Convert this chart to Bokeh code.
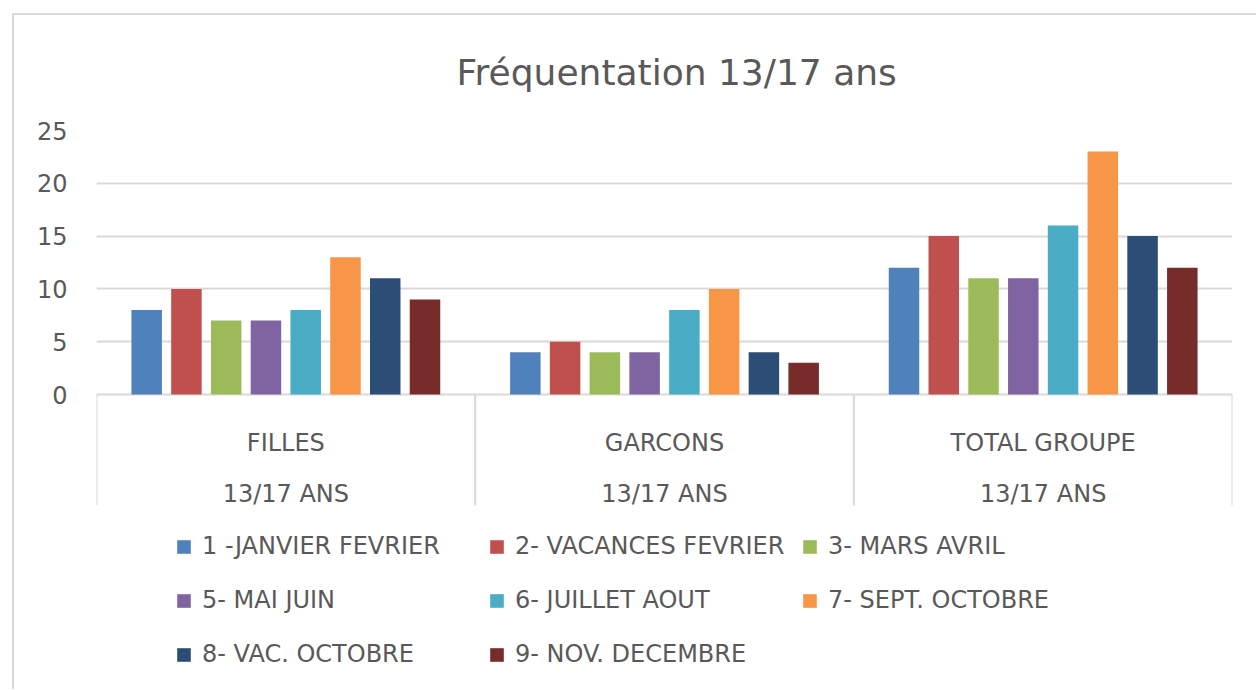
from bokeh.plotting import figure
from bokeh.models import Range1d, FixedTicker, Legend, LegendItem, ColumnDataSource
from bokeh.core.properties import value
from bokeh.embed import file_html
from bokeh.resources import INLINE

# ---- data ----
categories = ["FILLES", "GARCONS", "TOTAL GROUPE"]
sub_labels = ["13/17 ANS", "13/17 ANS", "13/17 ANS"]
series_names = ["1 -JANVIER FEVRIER", "2- VACANCES FEVRIER", "3- MARS AVRIL",
                "5- MAI JUIN", "6- JUILLET AOUT", "7- SEPT. OCTOBRE",
                "8- VAC. OCTOBRE", "9- NOV. DECEMBRE"]
filles = [8, 10, 7, 7, 8, 13, 11, 9]
garcons = [4, 5, 4, 4, 8, 10, 4, 3]
total_groupe = [12, 15, 11, 11, 16, 23, 15, 12]
colors = ["#4F81BD", "#C0504D", "#9BBB59", "#8064A2",
          "#4BACC6", "#F79646", "#2C4D75", "#772C2A"]
y_ticks = [0, 5, 10, 15, 20, 25]

# ---- layout ----
W, H = 1256, 689
LEFT, RIGHT, TOP, BOTTOM = 96, W - 1232, 130, 0
frame_h = H - TOP - BOTTOM
px_per_unit = 264 / 25.0
y_max = 25
y_min = y_max - frame_h / px_per_unit
FONT = "DejaVu Sans"
TXT = "#595959"
GRID = "#D9D9D9"

p = figure(width=W, height=H, x_range=Range1d(0, 3), y_range=Range1d(y_min, y_max),
           output_backend="svg", toolbar_location=None, x_axis_location=None,
           min_border_left=LEFT, min_border_right=RIGHT,
           min_border_top=TOP, min_border_bottom=BOTTOM,
           title="Fréquentation 13/17 ans")
p.outline_line_color = None
p.background_fill_color = "white"
p.border_fill_alpha = 0
p.xgrid.visible = False
p.styles = {"box-shadow": "inset 12px 13px 0 0 white, inset 14px 15px 0 0 #D9D9D9"}

p.title.text_font = FONT
p.title.text_font_size = "36px"
p.title.text_font_style = "normal"
p.title.text_color = TXT
p.title.align = "left"
p.title.offset = 360
p.title.standoff = 75

ax = p.yaxis[0]
ax.ticker = FixedTicker(ticks=y_ticks)
ax.axis_line_color = None
ax.major_tick_line_color = None
ax.minor_tick_line_color = None
ax.major_label_text_font = FONT
ax.major_label_text_font_size = "24px"
ax.major_label_text_color = TXT
ax.major_label_standoff = 23

p.ygrid.ticker = FixedTicker(ticks=y_ticks)
p.ygrid.grid_line_color = GRID
p.ygrid.grid_line_width = 2

# category box separators
box_depth = 111 / px_per_unit
n_cat = len(categories)
p.segment(x0=list(range(n_cat + 1)), y0=[0] * (n_cat + 1),
          x1=list(range(n_cat + 1)), y1=[-box_depth] * (n_cat + 1),
          line_color=GRID, line_width=2)

# category labels
cx = [i + 0.5 for i in range(n_cat)]
p.text(x=cx, y=[-48 / px_per_unit] * n_cat, text=categories,
       text_font=value(FONT), text_font_size="24px", text_color=TXT,
       text_align="center", text_baseline="alphabetic")
p.text(x=cx, y=[-99 / px_per_unit] * n_cat, text=sub_labels,
       text_font=value(FONT), text_font_size="24px", text_color=TXT,
       text_align="center", text_baseline="alphabetic")

# bars
pitch = 39.76 / 378.67
bar_w = 30.5 / 378.67
n_ser = len(series_names)
items = []
for k in range(n_ser):
    xs = [i + 0.5 + (k - (n_ser - 1) / 2) * pitch for i in range(n_cat)]
    tops = [filles[k], garcons[k], total_groupe[k]]
    src = ColumnDataSource(dict(x=xs, top=tops))
    r = p.vbar(x="x", top="top", bottom=0, width=bar_w, source=src,
               fill_color=colors[k], line_color=None)
    items.append(LegendItem(label=series_names[k], renderers=[r]))

legend = Legend(items=items, orientation="horizontal", ncols=3,
                location=(79, H - 676), glyph_width=17, glyph_height=17,
                label_standoff=10, label_width=276, label_height=44,
                spacing=10, padding=0, margin=0,
                border_line_color=None, background_fill_alpha=0,
                label_text_font=FONT, label_text_font_size="24px",
                label_text_color=TXT)
p.add_layout(legend)

open("out.html", "w").write(file_html(p, INLINE))
